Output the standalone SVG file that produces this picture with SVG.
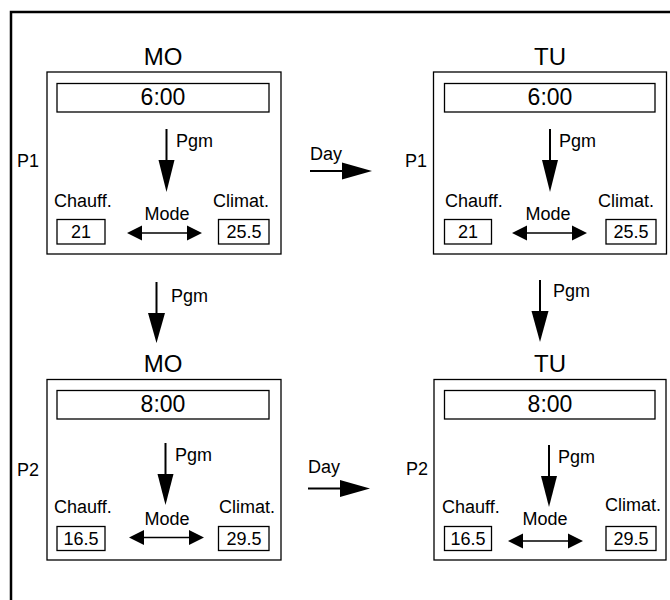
<svg xmlns="http://www.w3.org/2000/svg" width="670" height="600" viewBox="0 0 670 600">
<style>
text{font-family:"Liberation Sans",Arial,sans-serif;fill:#000}
.t{font-size:18px}
.big{font-size:23px}
.day{font-size:24px}
.m{text-anchor:middle}
.box{fill:#fff;stroke:#000;stroke-width:1.3}
.ln{stroke:#000;stroke-width:2;fill:none}
.thin{stroke:#000;stroke-width:1.3;fill:none}
.ah{fill:#000;stroke:none}
</style>
<rect width="670" height="600" fill="#fff"/>
<path d="M11,600 V12 H670" fill="none" stroke="#000" stroke-width="2.5"/>

<g id="mo-p1">
<text class="day m" x="163" y="65">MO</text>
<text class="t" x="17" y="167">P1</text>
<rect class="box" x="47" y="72" width="234" height="182"/>
<rect class="box" x="57" y="83.5" width="212" height="28.5"/>
<text class="big m" x="163" y="105">6:00</text>
<path class="ln" d="M166.5,129 V162"/>
<path class="ah" d="M158.5,160 H174.5 L166.5,192 Z"/>
<text class="t" x="176" y="147">Pgm</text>
<text class="t" x="54" y="207">Chauff.</text>
<text class="t" x="213" y="207">Climat.</text>
<text class="t m" x="167" y="220">Mode</text>
<rect class="box" x="57" y="219.5" width="48" height="24.5"/>
<text class="t m" x="81" y="238">21</text>
<rect class="box" x="218.5" y="219.5" width="50.5" height="24.5"/>
<text class="t m" x="244" y="238">25.5</text>
<path class="thin" d="M140,233 H189"/>
<path class="ah" d="M127,233 L142,225.5 V240.5 Z M202,233 L187,225.5 V240.5 Z"/>
</g>

<g id="tu-p1">
<text class="day m" x="550" y="65">TU</text>
<text class="t" x="405" y="167">P1</text>
<rect class="box" x="433.5" y="72" width="233" height="182"/>
<rect class="box" x="444.5" y="83.5" width="210.5" height="28.5"/>
<text class="big m" x="550" y="105">6:00</text>
<path class="ln" d="M550,129 V162"/>
<path class="ah" d="M542,160 H558 L550,192 Z"/>
<text class="t" x="559" y="147">Pgm</text>
<text class="t" x="445" y="207">Chauff.</text>
<text class="t" x="598" y="207">Climat.</text>
<text class="t m" x="548" y="220">Mode</text>
<rect class="box" x="444.5" y="219.5" width="47" height="24.5"/>
<text class="t m" x="468" y="238">21</text>
<rect class="box" x="606" y="219.5" width="50" height="24.5"/>
<text class="t m" x="631" y="238">25.5</text>
<path class="thin" d="M525,233 H574"/>
<path class="ah" d="M512,233 L527,225.5 V240.5 Z M587,233 L572,225.5 V240.5 Z"/>
</g>

<g id="mo-p2">
<text class="day m" x="163" y="372">MO</text>
<text class="t" x="17" y="476">P2</text>
<rect class="box" x="47" y="379.5" width="234" height="180.5"/>
<rect class="box" x="57" y="390.5" width="212" height="28.5"/>
<text class="big m" x="163" y="412">8:00</text>
<path class="ln" d="M165.5,443 V476"/>
<path class="ah" d="M157.5,474 H173.5 L165.5,505 Z"/>
<text class="t" x="175" y="461">Pgm</text>
<text class="t" x="54" y="513">Chauff.</text>
<text class="t" x="219" y="513">Climat.</text>
<text class="t m" x="167" y="525">Mode</text>
<rect class="box" x="57" y="526.5" width="48" height="24"/>
<text class="t m" x="81" y="545">16.5</text>
<rect class="box" x="218.5" y="526.5" width="50.5" height="24"/>
<text class="t m" x="244" y="545">29.5</text>
<path class="thin" d="M142,537.5 H191"/>
<path class="ah" d="M129,537.5 L144,530 V545 Z M204,537.5 L189,530 V545 Z"/>
</g>

<g id="tu-p2">
<text class="day m" x="550" y="372">TU</text>
<text class="t" x="406" y="475">P2</text>
<rect class="box" x="434" y="379.5" width="232" height="180.5"/>
<rect class="box" x="444.5" y="390.5" width="210.5" height="28.5"/>
<text class="big m" x="550" y="412">8:00</text>
<path class="ln" d="M549,445 V478"/>
<path class="ah" d="M541,476 H557 L549,507 Z"/>
<text class="t" x="558" y="463">Pgm</text>
<text class="t" x="442" y="513">Chauff.</text>
<text class="t" x="605" y="511">Climat.</text>
<text class="t m" x="545" y="525">Mode</text>
<rect class="box" x="444.5" y="526.5" width="47" height="24"/>
<text class="t m" x="468" y="545">16.5</text>
<rect class="box" x="606" y="526.5" width="50" height="24"/>
<text class="t m" x="631" y="545">29.5</text>
<path class="thin" d="M521,541 H570"/>
<path class="ah" d="M508,541 L523,533.5 V548.5 Z M583,541 L568,533.5 V548.5 Z"/>
</g>

<g id="connectors">
<path class="ln" d="M310,171 H344"/>
<path class="ah" d="M342,162.5 V179.5 L372,171 Z"/>
<text class="t" x="310" y="160">Day</text>
<path class="ln" d="M308,488.5 H342"/>
<path class="ah" d="M340,480 V497 L370,488.5 Z"/>
<text class="t" x="308" y="473">Day</text>
<path class="ln" d="M156.5,282 V315"/>
<path class="ah" d="M148,313 H165 L156.5,343 Z"/>
<text class="t" x="171" y="302">Pgm</text>
<path class="ln" d="M540,280 V313"/>
<path class="ah" d="M531.5,311 H548.5 L540,342 Z"/>
<text class="t" x="553" y="297">Pgm</text>
</g>
</svg>
